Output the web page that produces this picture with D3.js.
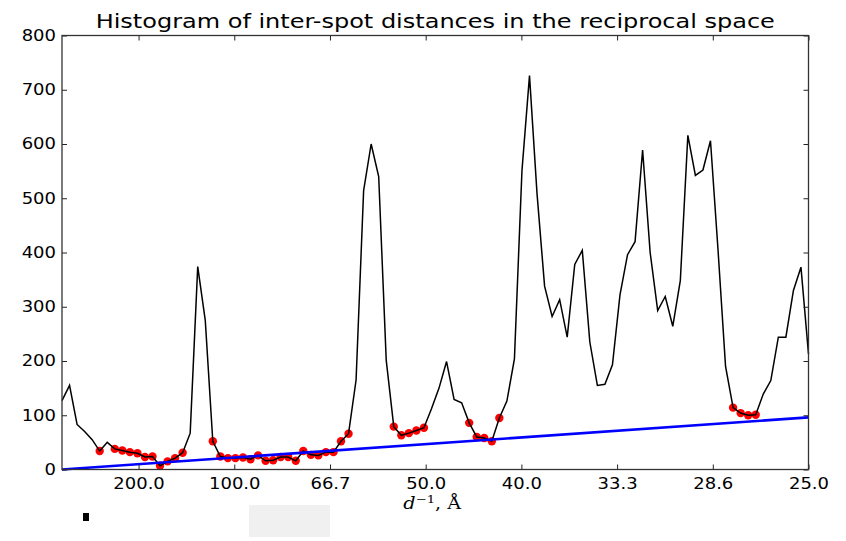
<!DOCTYPE html>
<html>
<head>
<meta charset="utf-8">
<script src="https://cdn.jsdelivr.net/npm/d3@7"></script>
<style>
  body { margin: 0; background: #fff; }
  svg { display: block; }
  text { font-family: "DejaVu Sans", sans-serif; fill: #000; }
</style>
</head>
<body>
<div id="chart"></div>
<script>
// histogram counts, 100 bins evenly spread over d^-1 = 0.001 .. 0.04
var counts = [127, 155, 83, 70, 55, 34, 50, 38, 35, 32,
              30, 23, 24, 7, 15, 21, 31, 67, 374, 275,
              52, 24, 21, 21, 22, 19, 26, 16, 17, 23,
              23, 16, 34, 27, 26, 32, 32, 52, 66, 165,
              514, 600, 540, 201, 79, 63, 67, 72, 77, 112,
              150, 199, 129, 123, 86, 60, 58, 52, 95, 126,
              204, 551, 726, 508, 338, 282, 313, 244, 378, 404,
              235, 155, 157, 193, 322, 396, 420, 589, 400, 293,
              319, 264, 348, 616, 542, 552, 606, 405, 190, 114,
              104, 100, 101, 139, 164, 244, 244, 330, 373, 213];
var binRange = [0.001, 0.04];
// bins picked as background points (red)
var bgIndex = [5, 7, 8, 9, 10, 11, 12, 13, 14, 15, 16,
               20, 21, 22, 23, 24, 25, 26, 27, 28, 29, 30, 31, 32, 33, 34, 35, 36, 37, 38,
               44, 45, 46, 47, 48, 54, 55, 56, 57, 58, 89, 90, 91, 92];
// fitted background line (blue), values at both ends of the range
var bgLine = [0, 96];
var xTicks = [0.005, 0.01, 0.015, 0.02, 0.025, 0.03, 0.035, 0.04];
var xTickLabels = ["200.0", "100.0", "66.7", "50.0", "40.0", "33.3", "28.6", "25.0"];
var yTicks = [0, 100, 200, 300, 400, 500, 600, 700, 800];

var W = 846, H = 541;
var margin = {top: 35.5, right: 37.5, bottom: 71.5, left: 62};
var width = W - margin.left - margin.right,
    height = H - margin.top - margin.bottom;
var stretch = 1.2; // the picture's text is wider than it is tall

var svg = d3.select("#chart").append("svg")
  .attr("width", W)
  .attr("height", H);
svg.append("rect").attr("width", W).attr("height", H).attr("fill", "#fff");

var g = svg.append("g")
  .attr("transform", "translate(" + margin.left + "," + margin.top + ")");

var x = d3.scaleLinear().domain(binRange).range([0, width]);
var y = d3.scaleLinear().domain([0, 800]).range([height, 0]);

var step = (binRange[1] - binRange[0]) / (counts.length - 1);
var pts = counts.map(function(c, i) {
  return {x: binRange[0] + i * step, y: c};
});

// red background points go under the black line
g.selectAll(".bg")
  .data(bgIndex.map(function(i) { return pts[i]; }))
  .enter().append("circle")
  .attr("class", "bg")
  .attr("cx", function(d) { return x(d.x); })
  .attr("cy", function(d) { return y(d.y); })
  .attr("r", 4.2)
  .attr("fill", "#ff0000");

var line = d3.line()
  .x(function(d) { return x(d.x); })
  .y(function(d) { return y(d.y); });

g.append("path")
  .datum(pts)
  .attr("fill", "none")
  .attr("stroke", "#000")
  .attr("stroke-width", 1.5)
  .attr("d", line);

g.append("path")
  .datum([{x: binRange[0], y: bgLine[0]}, {x: binRange[1], y: bgLine[1]}])
  .attr("fill", "none")
  .attr("stroke", "#0000ff")
  .attr("stroke-width", 2.6)
  .attr("d", line);

// axes, ticks pointing inward on all four sides
var tickLen = 5;
var xAxis = d3.axisBottom(x).tickValues(xTicks)
  .tickFormat(function(d, i) { return xTickLabels[i]; })
  .tickSizeInner(-tickLen).tickSizeOuter(0).tickPadding(9);
var yAxis = d3.axisLeft(y).tickValues(yTicks)
  .tickSizeInner(-tickLen).tickSizeOuter(0).tickPadding(6);

var gx = g.append("g").attr("transform", "translate(0," + height + ")").call(xAxis);
var gy = g.append("g").call(yAxis);
g.append("g").call(d3.axisTop(x).tickValues(xTicks).tickFormat("")
  .tickSizeInner(-tickLen).tickSizeOuter(0));
g.append("g").attr("transform", "translate(" + width + ",0)")
  .call(d3.axisRight(y).tickValues(yTicks).tickFormat("")
  .tickSizeInner(-tickLen).tickSizeOuter(0));

g.selectAll(".domain").remove();
g.selectAll(".tick line").attr("stroke", "#222").attr("stroke-width", 1);
gx.selectAll("text").style("font-size", "15px").attr("font-family", "DejaVu Sans")
  .attr("transform", "scale(" + stretch + ",1)");
gy.selectAll("text").style("font-size", "15px").attr("font-family", "DejaVu Sans")
  .attr("x", -6 / stretch)
  .attr("transform", "scale(" + stretch + ",1)");

g.append("rect")
  .attr("width", width).attr("height", height)
  .attr("fill", "none").attr("stroke", "#333").attr("stroke-width", 1.3);

// title
svg.append("text")
  .attr("transform", "translate(" + (margin.left + width / 2) + ",28) scale(" + stretch + ",1)")
  .attr("text-anchor", "middle")
  .style("font-size", "20px")
  .text("Histogram of inter-spot distances in the reciprocal space");

// x label: d^-1, Å
var xl = svg.append("text")
  .attr("transform", "translate(" + (margin.left + width / 2 - 3) + ",509) scale(" + stretch + ",1)")
  .attr("text-anchor", "middle")
  .style("font-family", "'DejaVu Serif', serif")
  .style("font-size", "16px");
xl.append("tspan").style("font-style", "italic").text("d");
xl.append("tspan").attr("dy", -6).style("font-size", "11px").text("\u22121");
xl.append("tspan").attr("dy", 6).text(", \u00c5");

// stray marks below the figure
svg.append("rect").attr("x", 83).attr("y", 513).attr("width", 6).attr("height", 8).attr("fill", "#000");
svg.append("rect").attr("x", 249).attr("y", 505).attr("width", 81).attr("height", 32).attr("fill", "#f0f0f0");
</script>
</body>
</html>
